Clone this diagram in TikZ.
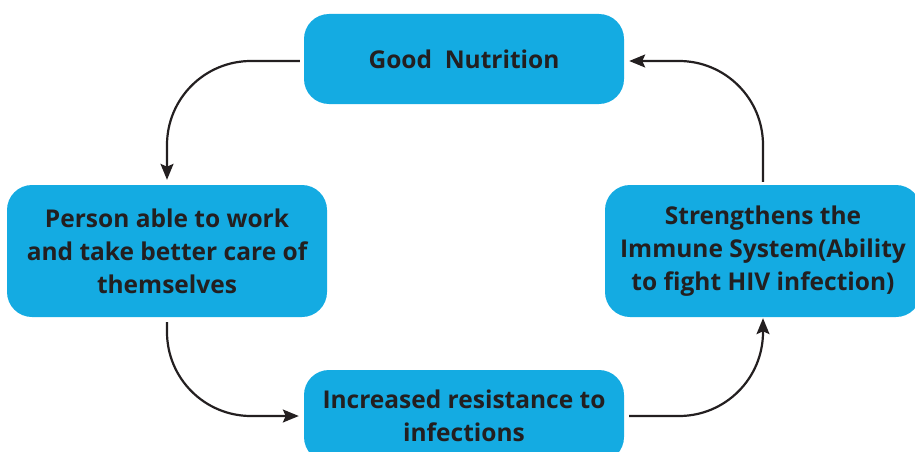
\documentclass[tikz,border=0pt]{standalone}
\usepackage{fontspec}
\setmainfont{Open Sans}
\usetikzlibrary{arrows.meta}
\definecolor{boxblue}{RGB}{20,171,226}
\definecolor{ink}{RGB}{35,31,32}
\tikzset{
  stepbox/.style={rectangle, rounded corners=25pt, fill=boxblue, draw=none,
    text=ink, font=\fontsize{24.5}{33}\selectfont\bfseries, align=center, inner sep=0pt},
  arr/.style={draw=ink, line width=2.2pt, rounded corners=84pt,
    -{Stealth[length=16pt,width=13pt,inset=3pt]}}
}
\begin{document}
\begin{tikzpicture}[x=1pt,y=-1pt]
\useasboundingbox (0,0) rectangle (915,452);
\node[stepbox, minimum width=320pt, minimum height=90pt] (top) at (464,59) {Good\ \ Nutrition};
\node[stepbox, minimum width=320pt, minimum height=132pt] (left) at (167,251) {Person able to work\\and take better care of\\themselves};
\node[stepbox, minimum width=316pt, minimum height=132pt] (right) at (763,251) {Strengthens the\\Immune System(Ability\\to fight HIV infection)};
\node[stepbox, minimum width=320pt, minimum height=92pt] (bottom) at (464,416) {Increased resistance to\\infections};
\draw[arr] ([xshift=-4pt,yshift=-2pt]top.west) -| ([yshift=5pt]left.north);
\draw[arr] ([yshift=-5pt]left.south) |- ([xshift=-5pt]bottom.west);
\draw[arr] ([xshift=5pt]bottom.east) -| ([yshift=-1pt]right.south);
\draw[arr] ([yshift=3pt]right.north) |- ([xshift=5pt,yshift=-2pt]top.east);
\end{tikzpicture}
\end{document}
